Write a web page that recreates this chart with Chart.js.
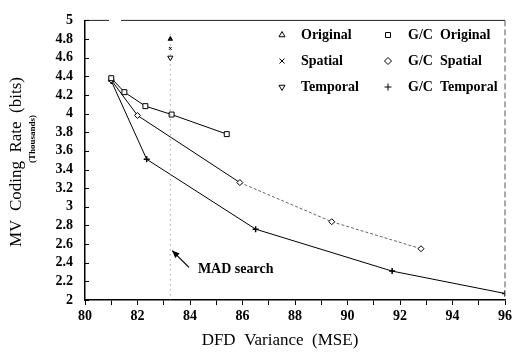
<!DOCTYPE html>
<html>
<head>
<meta charset="utf-8">
<script src="https://cdn.jsdelivr.net/npm/chart.js@4.4.0/dist/chart.umd.min.js"></script>
<style>
  html, body { margin: 0; padding: 0; background: #fff; }
  #wrap { position: relative; width: 515px; height: 353px; }
</style>
</head>
<body>
<div id="wrap"><canvas id="mvChart"></canvas></div>
<script>
// values
const gcOriginalX = [81.0, 81.5, 82.3, 83.3, 85.4];
const gcOriginalY = [4.38, 4.23, 4.08, 3.99, 3.78];
const gcSpatialX = [81.0, 82.0, 85.9, 89.4, 92.8];
const gcSpatialY = [4.36, 3.98, 3.26, 2.84, 2.55];
const gcTemporalX = [81.0, 82.35, 86.5, 91.7, 96.0];
const gcTemporalY = [4.35, 3.51, 2.76, 2.31, 2.07];
const madX = 83.25;
const originalY = [4.8];
const spatialY = [4.7];
const temporalY = [4.6];
const madLineY = [4.85, 2];
const xTicks = [80, 82, 84, 86, 88, 90, 92, 94, 96];
const yTicks = [2, 2.2, 2.4, 2.6, 2.8, 3, 3.2, 3.4, 3.6, 3.8, 4, 4.2, 4.4, 4.6, 4.8, 5];
const legendItems = [
  ["Original", "triangle", 0], ["G/C  Original", "rect", 0],
  ["Spatial", "crossRot", 0], ["G/C  Spatial", "rectRot", 0],
  ["Temporal", "triangle", 180], ["G/C  Temporal", "cross", 0]
];

const pts = (xs, ys) => xs.map((x, i) => ({ x: x, y: ys[i] }));
const serif = "'Liberation Serif', 'Times New Roman', serif";

const decor = {
  id: "decor",
  afterDraw(chart) {
    const ctx = chart.ctx;
    const a = chart.chartArea;
    const xs = chart.scales.x, ys = chart.scales.y;
    ctx.save();
    ctx.strokeStyle = "#222";
    ctx.lineWidth = 1;
    // top and right frame, thin and broken
    ctx.beginPath();
    ctx.moveTo(a.left, a.top); ctx.lineTo(a.left + 24, a.top);
    ctx.moveTo(a.left + 36, a.top); ctx.lineTo(a.right, a.top);
    ctx.stroke();
    ctx.setLineDash([6, 3]);
    ctx.strokeStyle = "#555";
    ctx.beginPath();
    ctx.moveTo(a.right, a.top); ctx.lineTo(a.right, a.bottom);
    ctx.stroke();
    ctx.setLineDash([]);
    // inward y ticks
    ctx.strokeStyle = "#000";
    ctx.beginPath();
    yTicks.forEach(v => {
      const py = Math.round(ys.getPixelForValue(v)) + 0.5;
      ctx.moveTo(a.left, py); ctx.lineTo(a.left + 4, py);
    });
    ctx.stroke();
    // MAD search arrow
    const tx = xs.getPixelForValue(83.32), ty = ys.getPixelForValue(2.53);
    const fx = xs.getPixelForValue(83.96), fy = ys.getPixelForValue(2.35);
    ctx.lineWidth = 1.2;
    ctx.beginPath(); ctx.moveTo(fx, fy); ctx.lineTo(tx, ty); ctx.stroke();
    const ang = Math.atan2(ty - fy, tx - fx);
    ctx.beginPath();
    ctx.moveTo(tx, ty);
    ctx.lineTo(tx - 8 * Math.cos(ang - 0.4), ty - 8 * Math.sin(ang - 0.4));
    ctx.lineTo(tx - 8 * Math.cos(ang + 0.4), ty - 8 * Math.sin(ang + 0.4));
    ctx.closePath();
    ctx.fillStyle = "#000"; ctx.fill();
    ctx.font = "bold 14px " + serif;
    ctx.textAlign = "left"; ctx.textBaseline = "middle";
    ctx.fillText("MAD search", xs.getPixelForValue(84.3), ys.getPixelForValue(2.33));
    // legend, two columns
    ctx.font = "bold 14px " + serif;
    legendItems.forEach((it, i) => {
      const col = i % 2, row = Math.floor(i / 2);
      const sx = col ? 388 : 282, ty2 = 35 + row * 26;
      ctx.strokeStyle = "#000"; ctx.fillStyle = "#fff"; ctx.lineWidth = 1;
      Chart.helpers.drawPoint(ctx, { pointStyle: it[1], radius: 3.5, rotation: it[2], borderWidth: 1 }, sx, ty2);
      ctx.fillStyle = "#000";
      ctx.fillText(it[0], col ? 408 : 301, ty2);
    });
    // axis titles
    ctx.font = "17px " + serif;
    ctx.textAlign = "center";
    ctx.fillText("DFD  Variance  (MSE)", 280, 341);
    ctx.translate(17, 162);
    ctx.rotate(-Math.PI / 2);
    ctx.fillText("MV  Coding  Rate  (bits)", 0, 0);
    ctx.rotate(Math.PI / 2);
    ctx.translate(-17, -162);
    ctx.translate(33, 139);
    ctx.rotate(-Math.PI / 2);
    ctx.font = "bold 9px " + serif;
    ctx.fillText("(Thousands)", 0, 0);
    ctx.restore();
  }
};

const seriesBase = {
  showLine: true, borderColor: "#000", borderWidth: 1,
  pointBorderColor: "#000", pointBackgroundColor: "#fff",
  pointBorderWidth: 1, pointRadius: 3.5
};

new Chart(document.getElementById("mvChart"), {
  type: "scatter",
  data: {
    datasets: [
      { label: "MAD line", data: pts([madX, madX], madLineY), showLine: true,
        borderColor: "#777", borderWidth: 1, borderDash: [1, 4], pointRadius: 0 },
      Object.assign({}, seriesBase, { label: "G/C Original", data: pts(gcOriginalX, gcOriginalY), pointStyle: "rect" }),
      Object.assign({}, seriesBase, { label: "G/C Spatial", data: pts(gcSpatialX, gcSpatialY), pointStyle: "rectRot", pointRadius: 3,
        segment: {
          borderColor: c => c.p0DataIndex >= 2 ? "#666" : "#000",
          borderDash: c => c.p0DataIndex >= 2 ? [3, 2] : undefined
        } }),
      Object.assign({}, seriesBase, { label: "G/C Temporal", data: pts(gcTemporalX, gcTemporalY), pointStyle: "cross", pointRadius: 3, pointBorderWidth: 1.5 }),
      Object.assign({}, seriesBase, { label: "Original", data: pts([madX], originalY), showLine: false, pointStyle: "triangle", pointBackgroundColor: "#000", pointRadius: 2.5 }),
      Object.assign({}, seriesBase, { label: "Spatial", data: pts([madX], spatialY), showLine: false, pointStyle: "crossRot", pointRadius: 2 }),
      Object.assign({}, seriesBase, { label: "Temporal", data: pts([madX], temporalY), showLine: false, pointStyle: "triangle", rotation: 180, pointRadius: 3 })
    ]
  },
  options: {
    responsive: true,
    maintainAspectRatio: false,
    animation: false,
    layout: { padding: { left: 0, right: 6, top: 16, bottom: 0 } },
    plugins: { legend: { display: false }, tooltip: { enabled: false } },
    scales: {
      x: {
        type: "linear", min: 80, max: 96,
        afterFit: s => { s.height = 53; },
        afterBuildTicks: s => { s.ticks = [];
          for (let v = 80; v <= 96; v++) s.ticks.push({ value: v }); },
        border: { color: "#000", width: 1.5 },
        grid: { drawOnChartArea: false, tickLength: 5, color: "#000" },
        ticks: {
          padding: 3, color: "#000", maxRotation: 0, autoSkip: false,
          font: { family: serif, size: 14, weight: "bold" },
          callback: v => xTicks.includes(v) ? String(v) : ""
        }
      },
      y: {
        type: "linear", min: 2, max: 5,
        afterFit: s => { s.width = 85; },
        afterBuildTicks: s => { s.ticks = yTicks.map(v => ({ value: v })); },
        border: { color: "#000", width: 1.5 },
        grid: { display: false, drawTicks: false },
        ticks: {
          padding: 12, color: "#000", autoSkip: false,
          font: { family: serif, size: 14, weight: "bold" },
          callback: v => String(Math.round(v * 10) / 10)
        }
      }
    }
  },
  plugins: [decor]
});
</script>
</body>
</html>
